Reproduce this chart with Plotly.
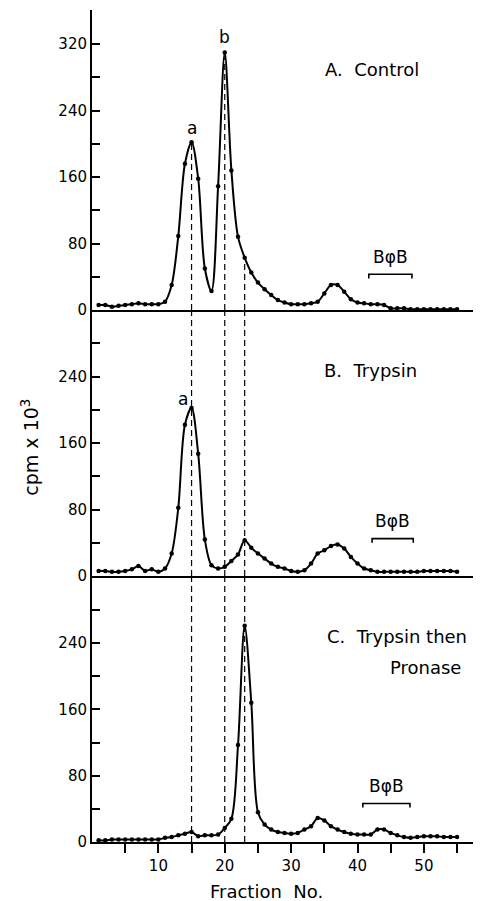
import plotly.graph_objects as go
from plotly.subplots import make_subplots

fractions = list(range(1, 56))

control = [6, 6, 4, 5, 6, 7, 8, 7, 7, 7,
           10, 30, 89, 176, 202, 158, 50, 23, 149, 310,
           168, 88, 63, 45, 33, 25, 18, 12, 9, 7,
           7, 7, 8, 10, 20, 30, 30, 22, 13, 9,
           8, 7, 7, 6, 2, 2, 2, 1, 1, 1,
           1, 1, 1, 1, 1]

trypsin = [6, 6, 5, 5, 6, 8, 12, 6, 8, 5,
           9, 27, 82, 182, 202, 147, 44, 13, 9, 11,
           18, 26, 43, 34, 27, 21, 15, 11, 9, 6,
           5, 7, 15, 27, 31, 36, 38, 33, 23, 15,
           9, 7, 5, 5, 5, 5, 5, 5, 5, 6,
           6, 6, 6, 6, 5]

trypsin_pronase = [2, 2, 3, 3, 3, 3, 3, 3, 3, 3,
                   5, 6, 8, 10, 12, 7, 8, 8, 9, 17,
                   28, 117, 261, 168, 36, 21, 15, 12, 11, 10,
                   11, 15, 19, 29, 26, 19, 15, 12, 10, 9,
                   9, 9, 15, 15, 11, 8, 6, 5, 6, 7,
                   7, 7, 6, 6, 6]

x_tickvals = [5, 10, 15, 20, 25, 30, 35, 40, 45, 50, 55]
x_ticktext = ["", "10", "", "20", "", "30", "", "40", "", "50", ""]
ya_tickvals = [0, 40, 80, 120, 160, 200, 240, 280, 320, 360]
ya_ticktext = ["0", "", "80", "", "160", "", "240", "", "320", ""]
yb_tickvals = [0, 40, 80, 120, 160, 200, 240, 280]
yb_ticktext = ["0", "", "80", "", "160", "", "240", ""]
marker_fractions = [15, 20, 23]
panel_titles = ["A.  Control", "B.  Trypsin", "C.  Trypsin then", "Pronase"]

FONT = "DejaVu Sans"

fig = make_subplots(rows=3, cols=1, shared_xaxes=True, vertical_spacing=0,
                    row_heights=[300, 266, 266])

for i, ys in enumerate([control, trypsin, trypsin_pronase]):
    fig.add_trace(go.Scatter(
        x=fractions, y=ys, mode="lines+markers",
        line=dict(color="black", width=2, shape="spline", smoothing=0.9),
        marker=dict(color="black", size=4.5),
        showlegend=False, hoverinfo="skip"), row=i + 1, col=1)

ranges = [[0, 361], [0, 320], [0, 321]]
for i in range(3):
    ax = "yaxis" if i == 0 else f"yaxis{i+1}"
    tv = ya_tickvals if i == 0 else yb_tickvals
    tt = ya_ticktext if i == 0 else yb_ticktext
    fig.layout[ax].update(range=ranges[i], tickvals=tv, ticktext=tt,
                          ticks="inside", ticklen=8, tickwidth=1.5,
                          tickcolor="black", showline=True, linecolor="black",
                          linewidth=2, showgrid=False, zeroline=False,
                          tickfont=dict(family=FONT, size=15, color="black"))
    xa = "xaxis" if i == 0 else f"xaxis{i+1}"
    fig.layout[xa].update(range=[0, 57.4], showline=True, linecolor="black",
                          linewidth=1.8, showgrid=False, zeroline=False,
                          tickvals=x_tickvals, ticktext=x_ticktext,
                          ticks="outside" if i == 2 else "",
                          ticklen=9, tickwidth=1.5, tickcolor="black",
                          showticklabels=(i == 2),
                          tickfont=dict(family=FONT, size=15, color="black"))

# dashed reference lines
for f in marker_fractions:
    fig.add_shape(type="line", xref="x", yref="y", x0=f, x1=f,
                  y0=0, y1=control[f - 1],
                  line=dict(color="black", width=1.2, dash="6px,4px"))
    for r in (2, 3):
        fig.add_shape(type="line", xref=f"x{r}", yref=f"y{r} domain",
                      x0=f, x1=f, y0=0, y1=1,
                      line=dict(color="black", width=1.2, dash="6px,4px"))

# BphiB brackets
brackets = [(1, 41.7, 48.2, 43), (2, 42.2, 48.4, 45), (3, 40.8, 47.9, 46.5)]
for r, xa0, xa1, yb in brackets:
    xr = "x" if r == 1 else f"x{r}"
    yr = "y" if r == 1 else f"y{r}"
    fig.add_shape(type="path", xref=xr, yref=yr,
                  path=f"M {xa0},{yb-5} L {xa0},{yb} L {xa1},{yb} L {xa1},{yb-5}",
                  line=dict(color="black", width=1.6))
    fig.add_annotation(x=(xa0 + xa1) / 2, y=yb + 21, xref=xr, yref=yr,
                       text="BφB", showarrow=False,
                       font=dict(family=FONT, size=17, color="black"))

# panel titles
fig.add_annotation(x=34.8, y=289, xref="x", yref="y", text=panel_titles[0],
                   xanchor="left", showarrow=False,
                   font=dict(family=FONT, size=18, color="black"))
fig.add_annotation(x=34.6, y=247, xref="x2", yref="y2", text=panel_titles[1],
                   xanchor="left", showarrow=False,
                   font=dict(family=FONT, size=18, color="black"))
fig.add_annotation(x=35.1, y=248, xref="x3", yref="y3", text=panel_titles[2],
                   xanchor="left", showarrow=False,
                   font=dict(family=FONT, size=18, color="black"))
fig.add_annotation(x=44.6, y=211, xref="x3", yref="y3", text=panel_titles[3],
                   xanchor="left", showarrow=False,
                   font=dict(family=FONT, size=18, color="black"))

# peak labels
fig.add_annotation(x=15, y=control[14], xref="x", yref="y", text="a",
                   showarrow=False, yshift=14,
                   font=dict(family=FONT, size=17, color="black"))
fig.add_annotation(x=20, y=control[19], xref="x", yref="y", text="b",
                   showarrow=False, yshift=15,
                   font=dict(family=FONT, size=17, color="black"))
fig.add_annotation(x=13.7, y=trypsin[14], xref="x2", yref="y2", text="a",
                   showarrow=False, yshift=9,
                   font=dict(family=FONT, size=17, color="black"))

# axis titles
fig.add_annotation(x=-0.163, y=0.475, xref="paper", yref="paper",
                   xanchor="center", yanchor="middle",
                   text="cpm x 10<sup>3</sup>", textangle=-90, showarrow=False,
                   font=dict(family=FONT, size=19, color="black"))
fig.add_annotation(x=0.459, y=-0.060, xref="paper", yref="paper",
                   xanchor="center", yanchor="middle",
                   text="Fraction  No.", showarrow=False,
                   font=dict(family=FONT, size=18, color="black"))

fig.update_layout(width=487, height=901,
                  margin=dict(l=92, r=14, t=10, b=59),
                  paper_bgcolor="white", plot_bgcolor="white")

fig.write_html("out.html")
